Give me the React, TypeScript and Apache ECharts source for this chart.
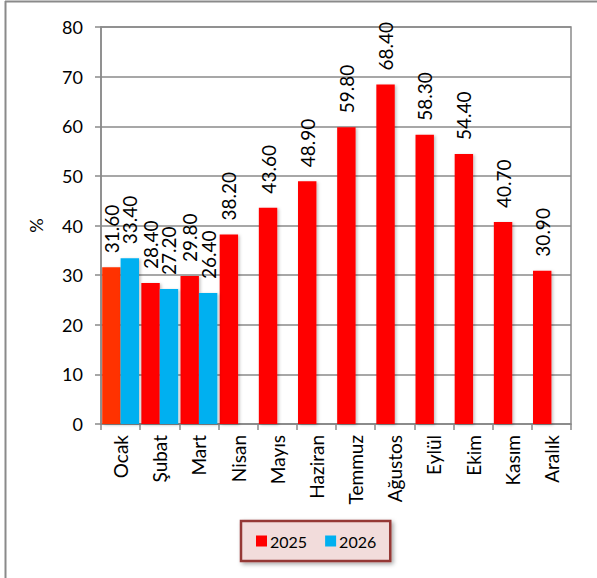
import React, { useEffect, useRef } from "react";
import * as echarts from "echarts";

const months = ["Ocak", "Şubat", "Mart", "Nisan", "Mayıs", "Haziran", "Temmuz", "Ağustos", "Eylül", "Ekim", "Kasım", "Aralık"];
const values2025 = [31.6, 28.4, 29.8, 38.2, 43.6, 48.9, 59.8, 68.4, 58.3, 54.4, 40.7, 30.9];
const values2026 = [33.4, 27.2, 26.4, null, null, null, null, null, null, null, null, null];
const seriesNames = ["2025", "2026"];

const FONT = "Lato, 'Noto Sans', sans-serif";
const GRAY = "#8a8a8a";

export default function App() {
  const ref = useRef<HTMLDivElement>(null);
  useEffect(() => {
    if (!ref.current) return;
    const chart = echarts.init(ref.current, null, { renderer: "svg" });
    const label = {
      show: true,
      position: "top",
      rotate: 90,
      align: "left",
      verticalAlign: "middle",
      distance: 14,
      color: "#000",
      fontSize: 19,
      fontFamily: FONT,
      formatter: (p: any) => (p.value == null ? "" : Number(p.value).toFixed(2)),
    };
    chart.setOption({
      animation: false,
      backgroundColor: "#fff",
      textStyle: { fontFamily: FONT },
      graphic: [
        { type: "line", shape: { x1: 5.5, y1: 1, x2: 5.5, y2: 578 }, style: { stroke: GRAY, lineWidth: 2 } },
        { type: "line", shape: { x1: 5, y1: 1.5, x2: 597, y2: 1.5 }, style: { stroke: GRAY, lineWidth: 2 } },
      ],
      grid: { left: 101, right: 26, top: 27, bottom: 154, show: true, borderColor: GRAY, borderWidth: 1.5, backgroundColor: "transparent" },
      legend: {
        data: seriesNames,
        left: 241,
        top: 521,
        width: 142,
        itemWidth: 11,
        itemHeight: 11,
        itemGap: 18,
        icon: "rect",
        padding: [12, 14, 12, 15],
        backgroundColor: "#F2DCDB",
        borderColor: "#953735",
        borderWidth: 2.5,
        shadowBlur: 4,
        shadowOffsetX: 2,
        shadowOffsetY: 2,
        shadowColor: "rgba(0,0,0,0.35)",
        textStyle: { fontSize: 16, color: "#000", fontFamily: FONT, padding: [0, 0, 0, -2] },
      },
      xAxis: {
        type: "category",
        data: months,
        axisLine: { lineStyle: { color: GRAY, width: 1.5 } },
        axisTick: { show: true, length: 6, lineStyle: { color: GRAY, width: 1.5 } },
        axisLabel: { rotate: 90, fontSize: 19, color: "#000", fontFamily: FONT, margin: 11 },
      },
      yAxis: {
        type: "value",
        min: 0,
        max: 80,
        interval: 10,
        name: "%",
        nameLocation: "middle",
        nameGap: 56,
        nameTextStyle: { fontSize: 18, color: "#000", fontFamily: FONT },
        axisLine: { show: true, lineStyle: { color: GRAY, width: 1.5 } },
        axisTick: { show: true, length: 6, lineStyle: { color: GRAY, width: 1.5 } },
        axisLabel: { fontSize: 18, color: "#000", fontFamily: FONT, margin: 18 },
        splitLine: { show: true, lineStyle: { color: GRAY, width: 1.5 } },
      },
      series: [
        {
          name: seriesNames[0],
          type: "bar",
          data: values2025.map((v, i) => (i === 0 ? { value: v, itemStyle: { color: "#FF3300" } } : v)),
          itemStyle: { color: "#FF0000", shadowBlur: 3, shadowOffsetX: 1.5, shadowOffsetY: 1, shadowColor: "rgba(0,0,0,0.25)" },
          barGap: "0%",
          barCategoryGap: "6%",
          label,
        },
        {
          name: seriesNames[1],
          type: "bar",
          data: values2026,
          itemStyle: { color: "#00B0F0", shadowBlur: 3, shadowOffsetX: 1.5, shadowOffsetY: 1, shadowColor: "rgba(0,0,0,0.25)" },
          barGap: "0%",
          barCategoryGap: "6%",
          label,
        },
      ],
    });
    return () => chart.dispose();
  }, []);
  return <div ref={ref} style={{ position: "fixed", left: 0, top: 0, width: 597, height: 578 }} />;
}
